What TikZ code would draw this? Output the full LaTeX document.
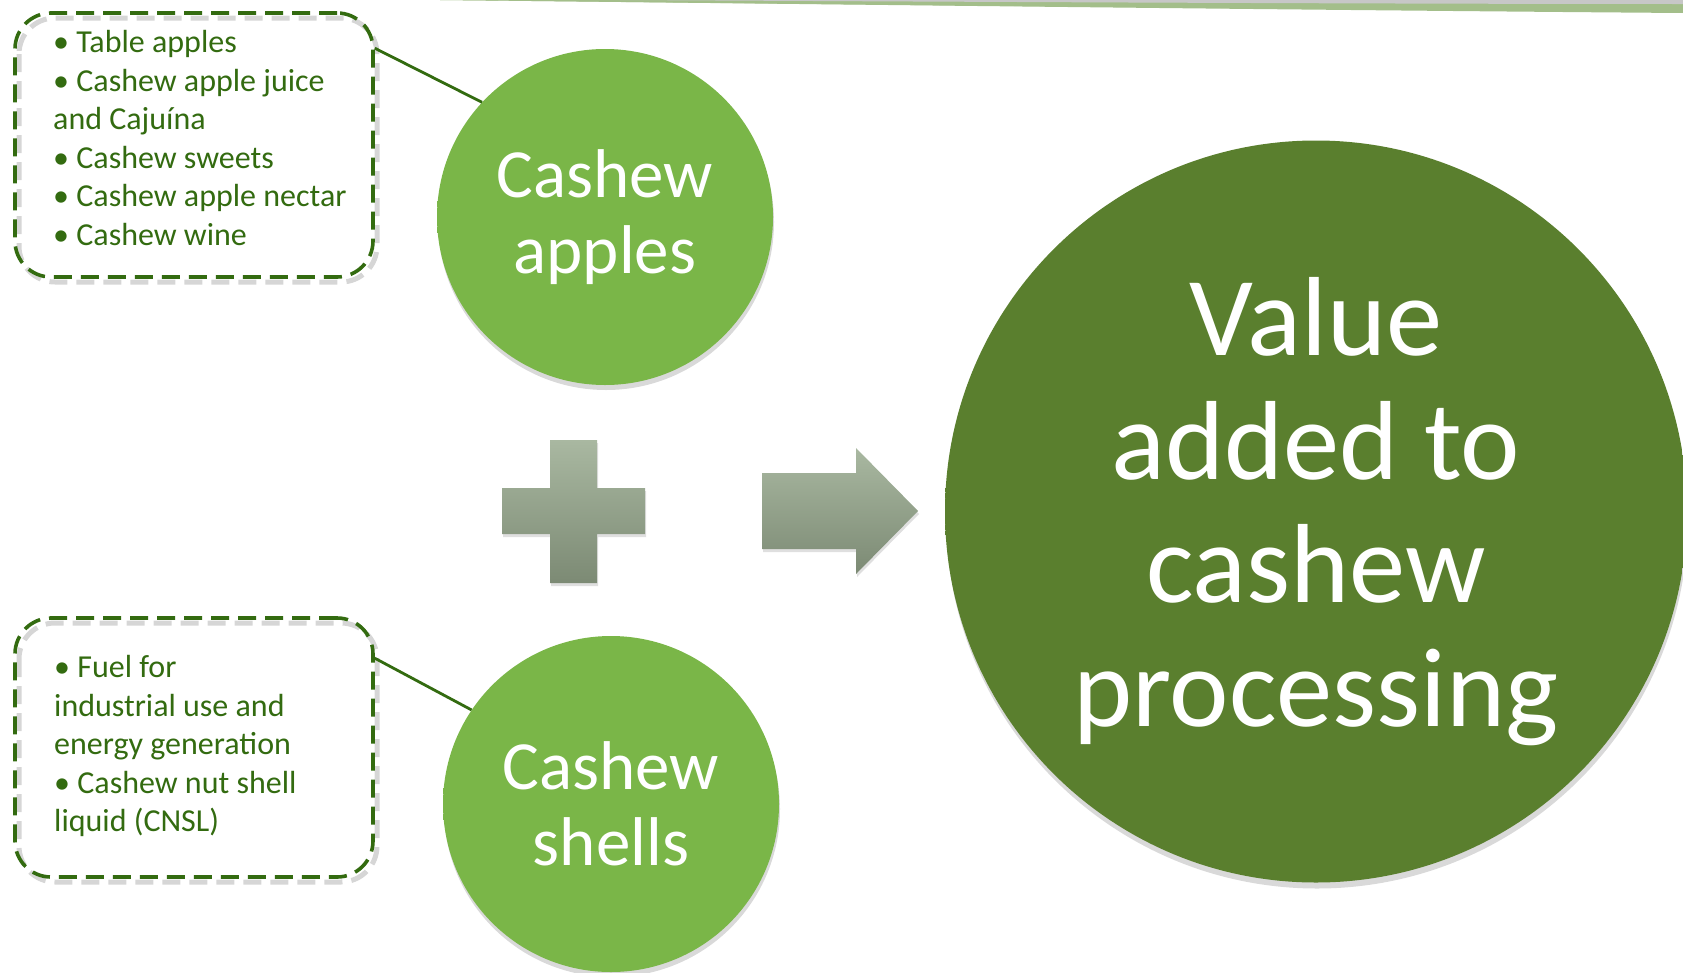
\documentclass[tikz,border=0pt]{standalone}
\usepackage{fontspec}
\setmainfont{Carlito}
\usetikzlibrary{shadows}
\definecolor{txtgreen}{HTML}{336B10}
\definecolor{lightC}{HTML}{7AB648}
\definecolor{lightE}{HTML}{5E9233}
\definecolor{lightEE}{HTML}{4A7A22}
\definecolor{darkC}{HTML}{5A7F2E}
\definecolor{darkE}{HTML}{46661F}
\definecolor{darkEE}{HTML}{2F4A15}
\definecolor{greyTop}{HTML}{A9B8A1}
\definecolor{greyBot}{HTML}{7C8A74}
\definecolor{swoosh}{HTML}{A3BE8A}
\pgfdeclareradialshading{lightball}{\pgfpoint{0bp}{0bp}}{color(0bp)=(lightC); color(46bp)=(lightC); color(48.5bp)=(lightE); color(50bp)=(lightEE)}
\pgfdeclareradialshading{darkball}{\pgfpoint{0bp}{0bp}}{color(0bp)=(darkC); color(47bp)=(darkC); color(49bp)=(darkE); color(50bp)=(darkEE)}
\begin{document}
\begin{tikzpicture}[x=1pt,y=-1pt,
  lbl/.style={font=\fontsize{32}{38.5}\selectfont, text=txtgreen, align=left, anchor=north west, inner sep=0pt},
  dashbox/.style={draw=txtgreen, line width=3.6pt, dash pattern=on 18pt off 9pt, rounded corners=36pt, minimum width=358pt, inner sep=0pt},
  dashshadow/.style={draw=black, opacity=0.16, line width=5pt, dash pattern=on 18pt off 9pt, rounded corners=36pt},
  smallball/.style={circle, minimum size=336pt, inner sep=0pt, shade, shading=lightball, text=white, align=center, font=\fontsize{69}{76}\selectfont, drop shadow={opacity=0.3, shadow xshift=1pt, shadow yshift=-5pt}},
  bigball/.style={circle, minimum size=742pt, inner sep=0pt, shade, shading=darkball, text=white, align=center, font=\fontsize{112.5}{123.5}\selectfont, drop shadow={opacity=0.3, shadow xshift=1pt, shadow yshift=-6pt}},
  conn/.style={draw=txtgreen, line width=2.8pt},
  greyshape/.style={top color=greyTop, bottom color=greyBot, drop shadow={opacity=0.25, shadow xshift=1pt, shadow yshift=-3pt}}
]
\useasboundingbox (0,0) rectangle (1683,972);
% header swoosh
\shade[top color=swoosh, bottom color=white] (1683,12) .. controls (1300,9) and (900,5) .. (440,0) -- (1683,0) -- (1683,22) -- cycle;
\fill[swoosh] (440,0) .. controls (900,2) and (1300,3) .. (1683,3) -- (1683,13) .. controls (1300,10) and (900,5) .. (440,0) -- cycle;
\fill[black!22] (620,0) .. controls (1000,2) and (1400,4) .. (1683,4) -- (1683,0) -- cycle;

% dashed boxes
\draw[dashshadow] (19,18) rectangle (377,282);
\node[dashbox, minimum height=264pt] (tbox) at (194,145) {};
\draw[dashshadow] (19,623) rectangle (377,882);
\node[dashbox, minimum height=259pt] (bbox) at (194,747.5) {};

\node[lbl] (ttext) at (53,30.5) {• Table apples\\• Cashew apple juice\\and Cajuína\\• Cashew sweets\\• Cashew apple nectar\\• Cashew wine};
\node[lbl] (btext) at (54,655.5) {• Fuel for\\industrial use and\\energy generation\\• Cashew nut shell\\liquid (CNSL)};

% circles
\node[smallball] (capp) at (605,217) {Cashew\\apples};
\node[smallball] (cshell) at (611,804) {Cashew\\shells};
\node[bigball] (value) at (1316,511.5) {Value\\added to\\cashew\\processing};

% connectors
\coordinate (tstart) at ([yshift=-37pt]tbox.north east);
\coordinate (bstart) at ([yshift=-42pt]bbox.north east);
\draw[conn] (tstart) -- (capp.137);
\draw[conn] (bstart) -- (cshell.146);

% plus and arrow
\path[greyshape] (550,440) -- (597,440) -- (597,488) -- (645,488) -- (645,534) -- (597,534) -- (597,583) -- (550,583) -- (550,534) -- (502,534) -- (502,488) -- (550,488) -- cycle;
\path[greyshape] (762,473) -- (856,473) -- (856,448) -- (918,511) -- (856,574) -- (856,549) -- (762,549) -- cycle;
\end{tikzpicture}
\end{document}
